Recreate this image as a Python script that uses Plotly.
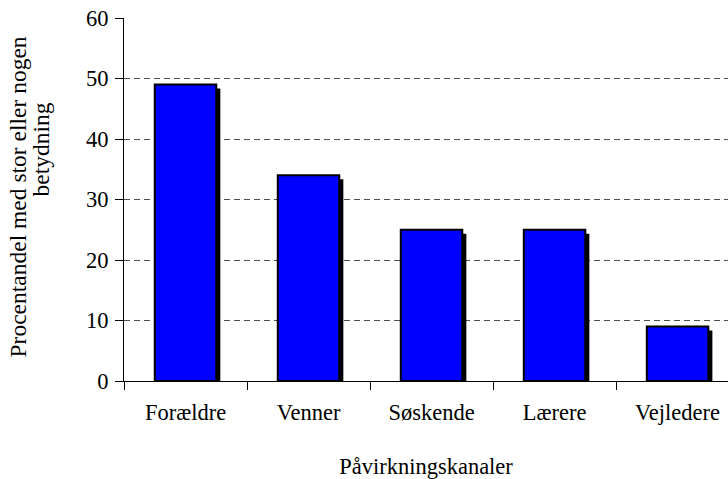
import plotly.graph_objects as go

categories = ["Forældre", "Venner", "Søskende", "Lærere", "Vejledere"]
values = [49, 34, 25, 25, 9]
y_ticks = [0, 10, 20, 30, 40, 50, 60]
y_title_lines = ["Procentandel med stor eller nogen", "betydning"]
x_title = "Påvirkningskanaler"

FONT = "Liberation Serif, Times New Roman, serif"
BAR_W = 0.5
SH_DX = 0.033   # shadow shift in category units
SH_DY = 0.66    # shadow shift in value units

fig = go.Figure()
# shadow
fig.add_trace(go.Bar(
    x=categories, y=values, base=[-SH_DY] * len(values),
    width=BAR_W, offset=-BAR_W / 2 + SH_DX,
    marker=dict(color="black", line=dict(width=0)),
    hoverinfo="skip", showlegend=False,
))
# bars
fig.add_trace(go.Bar(
    x=categories, y=values,
    width=BAR_W, offset=-BAR_W / 2,
    marker=dict(color="#0000FF", line=dict(color="black", width=2)),
    showlegend=False,
))

fig.update_layout(
    width=728, height=479,
    margin=dict(l=124, r=0, t=18, b=98),
    paper_bgcolor="white", plot_bgcolor="white",
    barmode="overlay",
    font=dict(family=FONT, size=22.5, color="black"),
    xaxis=dict(
        type="category", range=[-0.5, 4.41],
        showline=True, linecolor="black", linewidth=1,
        ticks="outside", tickson="boundaries", ticklen=8, tickcolor="black",
        ticklabelstandoff=11,
        showgrid=False,
        title=dict(text=x_title, standoff=34, font=dict(size=22.5)),
    ),
    yaxis=dict(
        range=[0, 60], tickvals=y_ticks,
        showline=True, linecolor="black", linewidth=1,
        ticks="outside", ticklen=8, tickcolor="black",
        ticklabelstandoff=2,
        showgrid=True, gridcolor="#505050", griddash="6px,4px", gridwidth=1,
        zeroline=False,
    ),
)

# y-axis title, two rotated lines
fig.add_annotation(text=y_title_lines[0], xref="paper", yref="paper", x=0, y=0.5,
                   xanchor="center", yanchor="middle", xshift=-107, yshift=2,
                   textangle=-90, showarrow=False, font=dict(size=23.5))
fig.add_annotation(text=y_title_lines[1], xref="paper", yref="paper", x=0, y=0.5,
                   xanchor="center", yanchor="middle", xshift=-84, yshift=50,
                   textangle=-90, showarrow=False, font=dict(size=23.5))

fig.write_html("out.html", config={"displayModeBar": False},
               post_script="document.body.style.margin='0';")
